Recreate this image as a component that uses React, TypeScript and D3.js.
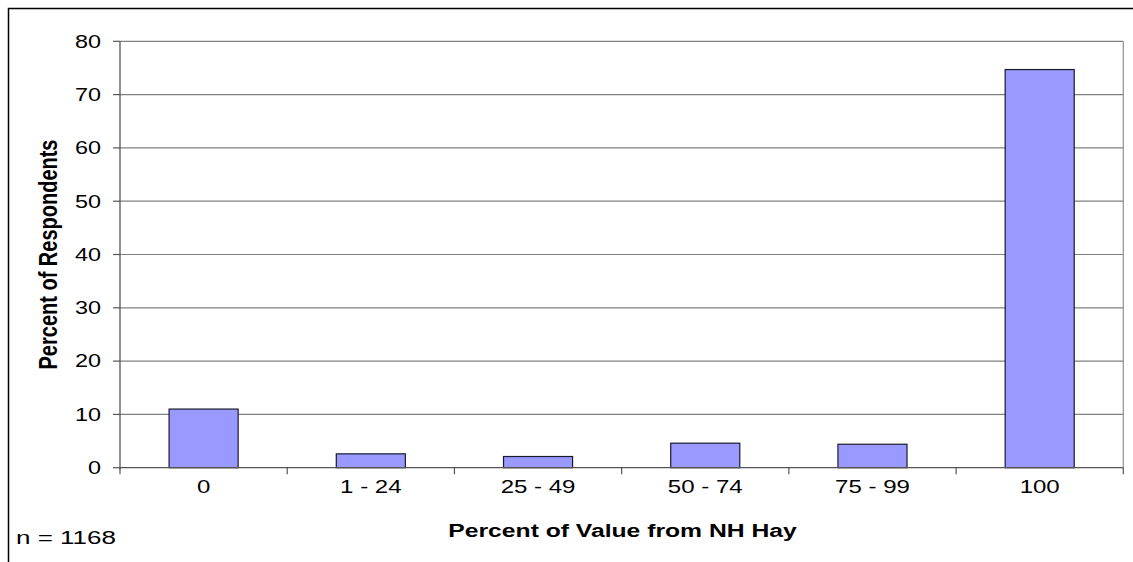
// Bar chart: share of respondents by percent of value from NH hay
import * as d3 from "d3";
import React, { useEffect, useRef } from "react";

const categories = ["0", "1 - 24", "25 - 49", "50 - 74", "75 - 99", "100"];
const values = [11.0, 2.6, 2.1, 4.6, 4.4, 74.7];
const yTicks = [0, 10, 20, 30, 40, 50, 60, 70, 80];

const width = 1133;
const height = 562;
const font = "Arial, 'Liberation Sans', sans-serif";
// the source picture is stretched horizontally, so text gets stretched too
const stretch = 1.3;

export default function App() {
  const ref = useRef<SVGSVGElement>(null);

  useEffect(() => {
    const svg = d3.select(ref.current);
    svg.selectAll("*").remove();

    const plot = { left: 120, right: 1123.3, top: 41.3, bottom: 467.7 };

    const x = d3
      .scaleBand()
      .domain(categories)
      .range([plot.left, plot.right])
      .paddingInner(0.587)
      .paddingOuter(0.587 / 2);

    const edges = d3
      .scaleLinear()
      .domain([0, categories.length])
      .range([plot.left, plot.right]);

    const y = d3.scaleLinear().domain([0, 80]).range([plot.bottom, plot.top]);

    // outer frame (only top and left edges are in view)
    svg
      .append("rect")
      .attr("x", 8.5)
      .attr("y", 8.5)
      .attr("width", 1200)
      .attr("height", 700)
      .attr("fill", "none")
      .attr("stroke", "#000")
      .attr("stroke-width", 1.5);

    // gridlines
    svg
      .append("g")
      .selectAll("line")
      .data(yTicks.filter((d) => d > 0))
      .enter()
      .append("line")
      .attr("x1", plot.left)
      .attr("x2", plot.right)
      .attr("y1", (d) => y(d))
      .attr("y2", (d) => y(d))
      .attr("stroke", "#808080")
      .attr("stroke-width", 1.2);

    // right border of plot area
    svg
      .append("line")
      .attr("x1", plot.right)
      .attr("x2", plot.right)
      .attr("y1", plot.top)
      .attr("y2", plot.bottom)
      .attr("stroke", "#909090")
      .attr("stroke-width", 1.2);

    // bars
    svg
      .append("g")
      .selectAll("rect")
      .data(values)
      .enter()
      .append("rect")
      .attr("x", (_, i) => x(categories[i]) as number)
      .attr("y", (d) => y(d))
      .attr("width", x.bandwidth())
      .attr("height", (d) => y(0) - y(d))
      .attr("fill", "#9999FF")
      .attr("stroke", "#1a1a2e")
      .attr("stroke-width", 1.2);

    // axes
    const axisColor = "#555";
    svg
      .append("line")
      .attr("x1", plot.left)
      .attr("x2", plot.left)
      .attr("y1", plot.top)
      .attr("y2", plot.bottom + 2)
      .attr("stroke", axisColor)
      .attr("stroke-width", 1.3);
    svg
      .append("line")
      .attr("x1", plot.left)
      .attr("x2", plot.right)
      .attr("y1", plot.bottom)
      .attr("y2", plot.bottom)
      .attr("stroke", axisColor)
      .attr("stroke-width", 1.3);

    // y ticks + labels
    const yAxis = svg.append("g");
    yAxis
      .selectAll("line")
      .data(yTicks)
      .enter()
      .append("line")
      .attr("x1", plot.left - 7)
      .attr("x2", plot.left)
      .attr("y1", (d) => y(d))
      .attr("y2", (d) => y(d))
      .attr("stroke", axisColor)
      .attr("stroke-width", 1.2);
    yAxis
      .selectAll("text")
      .data(yTicks)
      .enter()
      .append("text")
      .attr("transform", (d) => `translate(101,${y(d)}) scale(${stretch},1)`)
      .attr("dy", "0.35em")
      .attr("text-anchor", "end")
      .style("font-family", font)
      .style("font-size", "18px")
      .text((d) => d);

    // x ticks + labels
    const xAxis = svg.append("g");
    xAxis
      .selectAll("line")
      .data(d3.range(categories.length + 1))
      .enter()
      .append("line")
      .attr("x1", (d) => edges(d))
      .attr("x2", (d) => edges(d))
      .attr("y1", plot.bottom)
      .attr("y2", plot.bottom + 6.5)
      .attr("stroke", axisColor)
      .attr("stroke-width", 1.2);
    xAxis
      .selectAll("text")
      .data(categories)
      .enter()
      .append("text")
      .attr(
        "transform",
        (d) =>
          `translate(${(x(d) as number) + x.bandwidth() / 2},493.3) scale(${stretch},1)`
      )
      .attr("text-anchor", "middle")
      .style("font-family", font)
      .style("font-size", "18.5px")
      .text((d) => d);

    // axis titles
    svg
      .append("text")
      .attr("transform", `translate(622.5,536.7) scale(${stretch},1)`)
      .attr("text-anchor", "middle")
      .style("font-family", font)
      .style("font-size", "19px")
      .style("font-weight", "bold")
      .text("Percent of Value from NH Hay");

    svg
      .append("text")
      .attr(
        "transform",
        `translate(57,${(plot.top + plot.bottom) / 2}) scale(${stretch},1) rotate(-90)`
      )
      .attr("text-anchor", "middle")
      .style("font-family", font)
      .style("font-size", "20px")
      .style("font-weight", "bold")
      .text("Percent of Respondents");

    // sample size note
    svg
      .append("text")
      .attr("transform", `translate(16,544) scale(${stretch * 1.08},1)`)
      .style("font-family", font)
      .style("font-size", "18.5px")
      .text("n = 1168");
  }, []);

  return (
    <svg
      ref={ref}
      width={width}
      height={height}
      style={{ position: "absolute", left: 0, top: 0, background: "#fff" }}
    />
  );
}
